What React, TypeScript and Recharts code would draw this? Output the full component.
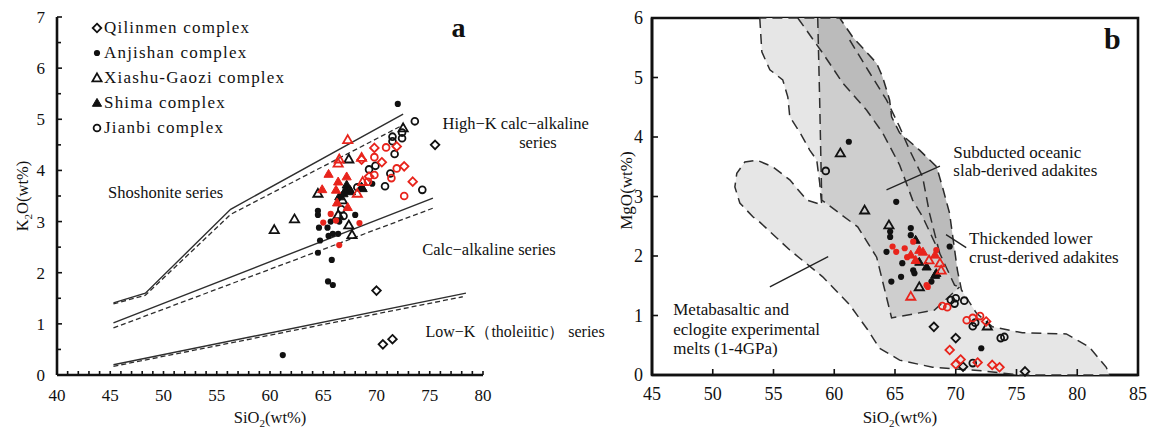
import React from "react";
import { ScatterChart, Scatter, XAxis, YAxis, ReferenceDot, ReferenceArea, Legend } from "recharts";

const FONT = "'Liberation Serif', 'Times New Roman', serif";
const INK = "#111";
const RED = "#e8241c";

type Pt = [number, number];

// ---------- panel a : K2O vs SiO2 ----------
const aQilinmen: Pt[] = [[75.5, 4.5], [70.0, 1.65], [70.6, 0.6], [71.5, 0.7]];
const aAnjishan: Pt[] = [
  [72.0, 5.3], [69.6, 3.74], [64.5, 3.21], [64.5, 3.13], [68.0, 3.13], [64.6, 2.88], [65.4, 2.88],
  [65.7, 3.0], [66.5, 3.0], [65.5, 2.72], [65.9, 2.76], [66.4, 2.76], [64.7, 2.63], [64.5, 2.39],
  [65.8, 2.25], [65.45, 1.83], [65.9, 1.76], [61.2, 0.39],
];
const aXiashu: Pt[] = [
  [60.4, 2.84], [62.3, 3.05], [64.5, 3.55], [67.4, 4.22], [66.4, 3.13], [67.4, 2.93], [67.7, 2.74],
  [66.8, 3.42], [72.5, 4.83],
];
const aShima: Pt[] = [[67.2, 3.72], [67.1, 3.62], [67.5, 3.62], [66.5, 3.49], [68.7, 3.65], [66.9, 3.55], [67.6, 3.59], [68.6, 3.68]];
const aJianbi: Pt[] = [
  [73.6, 4.96], [71.5, 4.66], [71.5, 4.57], [72.4, 4.74], [72.4, 4.63], [71.7, 4.32], [69.9, 4.09],
  [69.3, 4.02], [71.3, 3.94], [70.8, 3.69], [74.3, 3.62], [68.2, 3.67], [66.7, 3.24], [66.9, 3.11],
];
const aQilinmenRed: Pt[] = [[69.8, 4.44], [71.9, 4.47], [72.6, 4.08], [73.4, 3.78], [70.5, 4.16], [69.3, 3.88], [68.6, 4.21]];
const aAnjishanRed: Pt[] = [[65.7, 3.15], [65.0, 2.98], [68.4, 2.97], [66.5, 2.54], [66.2, 3.02]];
const aXiashuRed: Pt[] = [[67.3, 4.6], [66.5, 4.22], [66.4, 4.14], [68.6, 4.25], [68.2, 3.55], [68.7, 3.78]];
const aShimaRed: Pt[] = [[65.5, 3.93], [66.2, 3.62], [67.2, 3.88], [66.3, 3.37], [67.3, 3.28], [64.9, 3.63], [66.4, 3.78]];
const aJianbiRed: Pt[] = [[70.9, 4.45], [71.9, 4.04], [71.4, 3.85], [72.6, 3.5], [69.8, 4.26], [69.2, 3.78], [69.8, 3.91]];

// series boundaries (solid / dashed)
const upperSolid: Pt[] = [[45.3, 1.41], [48.3, 1.6], [56.3, 3.24], [72.5, 5.1]];
const upperDash: Pt[] = [[45.3, 1.39], [48.3, 1.56], [56.3, 3.14], [72.6, 4.9]];
const midSolid: Pt[] = [[45.3, 1.02], [75.3, 3.46]];
const midDash: Pt[] = [[45.3, 0.92], [75.4, 3.27]];
const lowSolid: Pt[] = [[45.3, 0.2], [78.4, 1.6]];
const lowDash: Pt[] = [[45.3, 0.17], [78.1, 1.53]];

// ---------- panel b : MgO vs SiO2 ----------
const bQilinmen: Pt[] = [[68.2, 0.81], [70.0, 0.62], [70.6, 0.14], [75.7, 0.06]];
const bAnjishan: Pt[] = [
  [61.2, 3.92], [65.1, 2.91], [64.6, 2.41], [64.6, 2.32], [66.3, 2.47], [66.3, 2.35], [69.5, 2.16],
  [64.3, 2.07], [65.6, 1.88], [66.5, 1.76], [65.5, 1.65], [64.7, 1.57], [66.6, 1.71], [68.0, 1.57], [72.1, 0.45],
];
const bXiashu: Pt[] = [[60.5, 3.73], [62.5, 2.77], [64.5, 2.52], [67.0, 1.48], [72.6, 0.82]];
const bShima: Pt[] = [[66.7, 2.27], [67.0, 1.9], [67.6, 1.82], [68.4, 1.71], [68.3, 1.68]];
const bJianbi: Pt[] = [
  [59.3, 3.43], [69.6, 1.26], [70.0, 1.29], [70.7, 1.25], [69.9, 1.2], [71.4, 0.82], [71.6, 0.88],
  [73.7, 0.62], [74.0, 0.64], [71.4, 0.2],
];
const bQilinmenRed: Pt[] = [[69.5, 0.42], [70.4, 0.26], [70.0, 0.18], [71.8, 0.21], [73.0, 0.17], [73.6, 0.13], [72.5, 0.9]];
const bAnjishanRed: Pt[] = [[64.8, 2.16], [65.1, 2.07], [66.5, 2.24], [65.8, 2.13], [68.4, 2.1], [67.7, 1.48], [67.6, 1.51], [66.0, 1.98]];
const bXiashuRed: Pt[] = [[68.7, 1.88], [68.8, 1.76], [66.3, 1.32], [67.8, 1.93]];
const bShimaRed: Pt[] = [[66.3, 2.02], [67.3, 2.07], [66.7, 1.93], [68.3, 2.02], [67.0, 2.1]];
const bJianbiRed: Pt[] = [[68.9, 1.16], [69.3, 1.14], [70.9, 0.92], [71.4, 0.96], [72.0, 0.99]];

// fields
const fieldMelts: Pt[] = [
  [53.87, 6.0], [54.04, 5.43], [54.7, 5.13], [55.76, 4.96], [56.18, 4.67], [56.34, 4.34], [57.16, 4.08],
  [57.98, 3.78], [58.56, 3.61], [58.8, 3.23], [58.97, 2.86], [57.74, 2.94], [56.34, 3.28], [54.94, 3.5],
  [53.63, 3.61], [52.64, 3.58], [51.98, 3.39], [51.82, 3.16], [52.23, 2.89], [53.3, 2.66], [53.87, 2.57],
  [56.34, 2.1], [59.05, 1.65], [61.27, 1.18], [62.75, 0.76], [63.73, 0.45], [65.38, 0.25], [68.09, 0.13],
  [72.2, 0.07], [75.24, 0], [82.63, 0], [82.39, 0.13], [80.99, 0.47], [79.1, 0.69], [75.48, 0.71],
  [73.02, 0.81], [71.7, 1.04], [70.47, 1.43], [70.14, 1.76], [69.49, 2.72], [68.91, 3.16], [68.42, 3.5],
  [67.02, 3.78], [65.38, 4.07], [64.72, 4.34], [64.56, 4.62], [63.98, 5.01], [63.49, 5.24], [61.52, 5.68],
  [60.45, 6.0],
];
const fieldCrust: Pt[] = [
  [58.64, 6.0], [58.8, 4.62], [58.97, 2.94], [61.93, 2.49], [63.49, 1.98], [64.72, 0.96], [68.25, 1.09],
  [70.31, 1.48], [70.14, 1.76], [69.49, 2.72], [68.91, 3.16], [68.42, 3.5], [67.02, 3.78], [65.38, 4.07],
  [64.72, 4.34], [64.56, 4.62], [63.98, 5.01], [63.49, 5.24], [61.52, 5.68], [60.45, 6.0],
];
const fieldSlab: Pt[] = [
  [57.0, 6.0], [59.05, 5.41], [60.69, 4.91], [62.67, 4.45], [63.98, 4.07], [65.38, 3.53], [66.45, 2.94],
  [67.27, 2.66], [68.67, 2.05], [69.9, 1.51], [70.31, 1.48], [70.14, 1.76], [69.49, 2.72], [68.91, 3.16],
  [68.42, 3.5], [67.02, 3.78], [65.38, 4.07], [64.72, 4.34], [64.56, 4.62], [63.98, 5.01], [63.49, 5.24],
  [61.52, 5.68], [60.45, 6.0],
];
// dashed edges of the inner fields that are not shared with the outer field
const crustEdge: Pt[] = [[58.64, 6.0], [58.8, 4.62], [58.97, 2.94], [61.93, 2.49], [63.49, 1.98], [64.72, 0.96], [68.25, 1.09], [70.31, 1.48]];
const slabEdge: Pt[] = [
  [57.0, 6.0], [59.05, 5.41], [60.69, 4.91], [62.67, 4.45], [63.98, 4.07], [65.38, 3.53], [66.45, 2.94],
  [67.27, 2.66], [68.67, 2.05], [69.9, 1.51], [70.31, 1.48],
];
const innerDash: Pt[] = [[61.27, 5.63], [62.91, 5.08], [64.31, 4.62], [65.38, 4.17], [66.2, 3.78], [67.27, 3.33], [67.84, 2.72], [68.67, 2.05]];
const leaderSlab: Pt[] = [[64.3, 3.11], [68.7, 3.51]];
const leaderCrust: Pt[] = [[69.2, 2.36], [70.86, 2.14]];
const leaderMelts: Pt[] = [[54.7, 1.48], [59.5, 1.99]];

const legendNames = ["Qilinmen complex", "Anjishan complex", "Xiashu-Gaozi complex", "Shima complex", "Jianbi complex"];
const kinds = ["diamond", "dot", "tri", "triFill", "circle"];

const xTicksA = [40, 45, 50, 55, 60, 65, 70, 75, 80];
const yTicksA = [0, 1, 2, 3, 4, 5, 6, 7];
const xTicksB = [45, 50, 55, 60, 65, 70, 75, 80, 85];
const yTicksB = [0, 1, 2, 3, 4, 5, 6];
const xMinorA = Array.from({ length: 41 }, (_, i) => 40 + i);
const yMinorA = Array.from({ length: 15 }, (_, i) => i * 0.5);

const xy = (pts: Pt[]) => pts.map(([x, y]) => ({ x, y }));

function Marker({ cx, cy, kind, color }: { cx: number; cy: number; kind: string; color: string }) {
  if (kind === "diamond")
    return <path d={`M${cx},${cy - 4.3}L${cx + 4.3},${cy}L${cx},${cy + 4.3}L${cx - 4.3},${cy}Z`} fill="none" stroke={color} strokeWidth={1.8} />;
  if (kind === "dot") return <circle cx={cx} cy={cy} r={3.1} fill={color} />;
  if (kind === "circle") return <circle cx={cx} cy={cy} r={3.4} fill="none" stroke={color} strokeWidth={1.8} />;
  const filled = kind === "triFill";
  return (
    <path
      d={`M${cx},${cy - 4.6}L${cx + 4.6},${cy + 3.3}L${cx - 4.6},${cy + 3.3}Z`}
      fill={filled ? color : "none"}
      stroke={color}
      strokeWidth={filled ? 1 : 1.8}
    />
  );
}

const markerShape = (kind: string, color: string) => (p: any) => <Marker cx={p.cx} cy={p.cy} kind={kind} color={color} />;

const pathLine = (opts: { dash?: string; closed?: boolean; fill?: string; fillOpacity?: number; width?: number; stroke?: string }) => (p: any) => {
  const pts = (p.points || []) as { x: number; y: number }[];
  const d = pts.map((q, i) => `${i ? "L" : "M"}${q.x},${q.y}`).join("") + (opts.closed ? "Z" : "");
  return (
    <path
      d={d}
      fill={opts.fill ?? "none"}
      fillOpacity={opts.fillOpacity ?? 1}
      stroke={opts.stroke ?? "#2e2e2e"}
      strokeWidth={opts.width ?? 1.5}
      strokeDasharray={opts.dash}
    />
  );
};

const blank = () => <g />;

function series(key: string, pts: Pt[], kind: string, color: string) {
  return <Scatter key={key} data={xy(pts)} shape={markerShape(kind, color)} isAnimationActive={false} legendType="none" />;
}

function trace(key: string, pts: Pt[], opts: Parameters<typeof pathLine>[0]) {
  return (
    <Scatter key={key} data={xy(pts)} line={pathLine(opts)} lineType="joint" shape={blank} isAnimationActive={false} legendType="none" />
  );
}

type NoteOpts = { size?: number; weight?: string; dx?: number; dy?: number; anchor?: string; rotate?: boolean };
function note(key: string, at: Pt, content: React.ReactNode, o: NoteOpts = {}) {
  const shape = (p: any) => {
    const x = p.cx + (o.dx ?? 0);
    const y = p.cy + (o.dy ?? 0);
    return (
      <text
        x={x}
        y={y}
        fontFamily={FONT}
        fontSize={o.size ?? 16.5}
        fontWeight={o.weight ?? "normal"}
        fill={INK}
        textAnchor={o.anchor ?? "start"}
        transform={o.rotate ? `rotate(-90 ${x} ${y})` : undefined}
      >
        {content}
      </text>
    );
  };
  return <ReferenceDot key={key} x={at[0]} y={at[1]} r={1} ifOverflow="visible" shape={shape} />;
}

const sub = (a: string, s: string, b: string) => (
  <>
    {a}
    <tspan fontSize={11} dy={4}>{s}</tspan>
    <tspan dy={-4}>{b}</tspan>
  </>
);

// axis boxes are 1px wide/high, so ticks are drawn from the axis line position
const xTickA = (p: any) => {
  const v = p.payload.value;
  const major = xTicksA.includes(v);
  return (
    <g>
      <line x1={p.x} x2={p.x} y1={p.y} y2={p.y - 4} stroke={INK} strokeWidth={1.6} />
      {major && (
        <text x={p.x} y={p.y + 26} textAnchor="middle" fontFamily={FONT} fontSize={17} fill={INK}>
          {v}
        </text>
      )}
    </g>
  );
};

const yTickA = (p: any) => {
  const v = p.payload.value;
  const major = yTicksA.includes(v);
  return (
    <g>
      <line x1={p.x} x2={p.x + (major ? 5 : 4)} y1={p.y} y2={p.y} stroke={INK} strokeWidth={1.6} />
      {major && (
        <text x={p.x - 12} y={p.y + 6} textAnchor="end" fontFamily={FONT} fontSize={17} fill={INK}>
          {v}
        </text>
      )}
    </g>
  );
};

const xTickB = (p: any) => (
  <g>
    <line x1={p.x} x2={p.x} y1={p.y} y2={p.y - 6} stroke={INK} strokeWidth={1.6} />
    <text x={p.x} y={p.y + 25} textAnchor="middle" fontFamily={FONT} fontSize={18} fill={INK}>
      {p.payload.value}
    </text>
  </g>
);

const yTickB = (p: any) => (
  <g>
    <line x1={p.x} x2={p.x + 6} y1={p.y} y2={p.y} stroke={INK} strokeWidth={1.6} />
    <text x={p.x - 9} y={p.y + 6} textAnchor="end" fontFamily={FONT} fontSize={18} fill={INK}>
      {p.payload.value}
    </text>
  </g>
);

function LegendA() {
  return (
    <div style={{ fontFamily: FONT, fontSize: 17, letterSpacing: 1.2, color: INK }}>
      {legendNames.map((n, i) => (
        <div key={n} style={{ display: "flex", alignItems: "center", height: 25 }}>
          <svg width={14} height={14} style={{ flex: "none" }}>
            <Marker cx={7} cy={7} kind={kinds[i]} color={INK} />
          </svg>
          <span style={{ whiteSpace: "nowrap" }}>{n}</span>
        </div>
      ))}
    </div>
  );
}

const axisLine = { stroke: INK, strokeWidth: 2.6 };

function PanelA() {
  return (
    <ScatterChart width={640} height={429} margin={{ top: 17, right: 157, bottom: 53, left: 56 }}>
      <XAxis type="number" dataKey="x" domain={[40, 80]} ticks={xMinorA} interval={0} height={1} tickSize={0} tickMargin={0} tickLine={false} axisLine={axisLine} tick={xTickA} />
      <YAxis type="number" dataKey="y" domain={[0, 7]} ticks={yMinorA} interval={0} width={1} tickSize={0} tickMargin={0} tickLine={false} axisLine={axisLine} tick={yTickA} />
      <Legend layout="vertical" align="center" verticalAlign="middle" wrapperStyle={{ left: 90, top: 15, width: 270, height: 130 }} content={() => <LegendA />} />
      {trace("us", upperSolid, { width: 1.4 })}
      {trace("ud", upperDash, { dash: "5 3", width: 1.3 })}
      {trace("ms", midSolid, { width: 1.4 })}
      {trace("md", midDash, { dash: "5 3", width: 1.3 })}
      {trace("ls", lowSolid, { width: 1.4 })}
      {trace("ld", lowDash, { dash: "5 3", width: 1.3 })}
      {series("q", aQilinmen, "diamond", INK)}
      {series("an", aAnjishan, "dot", INK)}
      {series("x", aXiashu, "tri", INK)}
      {series("s", aShima, "triFill", INK)}
      {series("j", aJianbi, "circle", INK)}
      {series("qr", aQilinmenRed, "diamond", RED)}
      {series("anr", aAnjishanRed, "dot", RED)}
      {series("xr", aXiashuRed, "tri", RED)}
      {series("sr", aShimaRed, "triFill", RED)}
      {series("jr", aJianbiRed, "circle", RED)}
      {note("n1", [44.8, 3.46], "Shoshonite series")}
      {note("n2", [76.2, 4.81], "High−K calc−alkaline")}
      {note("n3", [83.4, 4.44], "series")}
      {note("n4", [74.3, 2.34], "Calc−alkaline series")}
      {note("n5", [74.6, 0.75], "Low−K（tholeiitic） series", { size: 16 })}
      {note("na", [77.05, 6.61], "a", { size: 28, weight: "bold" })}
      {note("tx", [60, 0], sub("SiO", "2", "(wt%)"), { size: 16.5, anchor: "middle", dy: 48 })}
      {note("ty", [40, 3.5], sub("K", "2", "O(wt%)"), { size: 16.5, anchor: "middle", dx: -29, rotate: true })}
    </ScatterChart>
  );
}

function PanelB() {
  return (
    <ScatterChart width={559} height={429} margin={{ top: 18, right: 11, bottom: 53, left: 61 }}>
      <XAxis type="number" dataKey="x" domain={[45, 85]} ticks={xTicksB} interval={0} height={1} tickSize={0} tickMargin={0} tickLine={false} axisLine={axisLine} tick={xTickB} />
      <YAxis type="number" dataKey="y" domain={[0, 6]} ticks={yTicksB} interval={0} width={1} tickSize={0} tickMargin={0} tickLine={false} axisLine={axisLine} tick={yTickB} />
      {trace("fm", fieldMelts, { closed: true, fill: "#e6e6e6", dash: "10 6", width: 1.5 })}
      {trace("fc", fieldCrust, { closed: true, fill: "#000", fillOpacity: 0.1, stroke: "none" })}
      {trace("fs", fieldSlab, { closed: true, fill: "#000", fillOpacity: 0.09, stroke: "none" })}
      {trace("ce", crustEdge, { dash: "10 6", width: 1.5 })}
      {trace("se", slabEdge, { dash: "10 6", width: 1.5 })}
      {trace("id", innerDash, { dash: "10 6", width: 1.5 })}
      {trace("l1", leaderSlab, { width: 1.3, stroke: "#222" })}
      {trace("l2", leaderCrust, { width: 1.3, stroke: "#222" })}
      {trace("l3", leaderMelts, { width: 1.3, stroke: "#222" })}
      <ReferenceArea x1={45} x2={85} y1={0} y2={6} fill="none" stroke={INK} strokeWidth={2.6} ifOverflow="visible" />
      {series("q", bQilinmen, "diamond", INK)}
      {series("an", bAnjishan, "dot", INK)}
      {series("x", bXiashu, "tri", INK)}
      {series("s", bShima, "triFill", INK)}
      {series("j", bJianbi, "circle", INK)}
      {series("qr", bQilinmenRed, "diamond", RED)}
      {series("anr", bAnjishanRed, "dot", RED)}
      {series("xr", bXiashuRed, "tri", RED)}
      {series("sr", bShimaRed, "triFill", RED)}
      {series("jr", bJianbiRed, "circle", RED)}
      {note("m1", [69.8, 3.64], "Subducted oceanic", { size: 17 })}
      {note("m2", [69.8, 3.34], "slab-derived adakites", { size: 17 })}
      {note("m3", [71.1, 2.2], "Thickended lower", { size: 17 })}
      {note("m4", [71.1, 1.89], "crust-derived adakites", { size: 17 })}
      {note("m5", [46.75, 1.01], "Metabasaltic and", { size: 17 })}
      {note("m6", [46.75, 0.67], "eclogite  experimental", { size: 17 })}
      {note("m7", [46.75, 0.35], "melts (1-4GPa)", { size: 17 })}
      {note("nb", [82.2, 5.48], "b", { size: 30, weight: "bold" })}
      {note("tx", [65.4, 0], sub("SiO", "2", "(wt%)"), { size: 17, anchor: "middle", dy: 48 })}
      {note("ty", [45, 3.1], "MgO(wt%)", { size: 17, anchor: "middle", dx: -20, rotate: true })}
    </ScatterChart>
  );
}

export default function App() {
  return (
    <div style={{ position: "absolute", left: 0, top: 0, width: 1149, height: 429, background: "#fff" }}>
      <div style={{ position: "absolute", left: 590, top: 0 }}>
        <PanelB />
      </div>
      <div style={{ position: "absolute", left: 0, top: 0, pointerEvents: "none" }}>
        <PanelA />
      </div>
    </div>
  );
}
